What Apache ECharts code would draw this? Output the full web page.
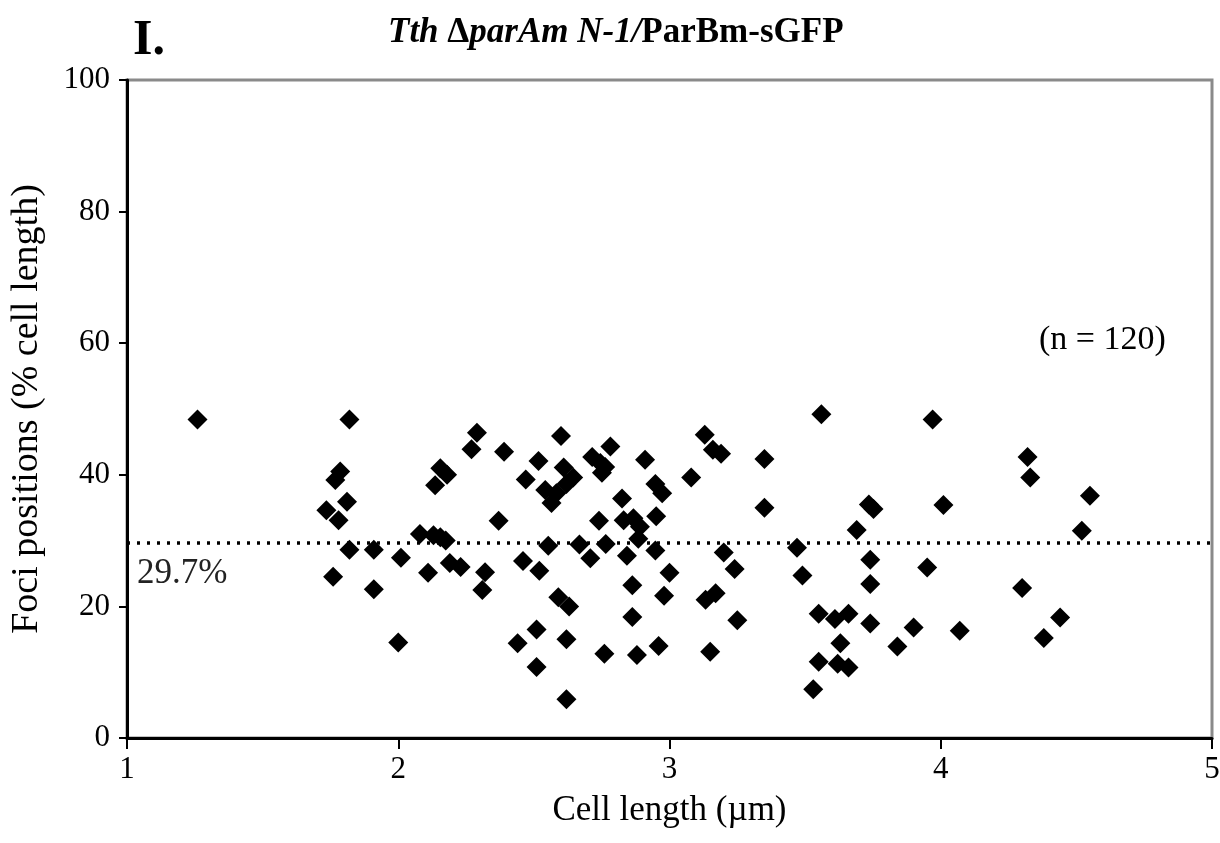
<!DOCTYPE html>
<html>
<head>
<meta charset="utf-8">
<script src="https://cdn.jsdelivr.net/npm/echarts@6/dist/echarts.min.js"></script>
<style>
  html, body { margin: 0; padding: 0; background: #fff; }
  #chart { width: 1220px; height: 843px; }
</style>
</head>
<body>
<div id="chart"></div>
<script>
// cell length (µm) and foci position (% cell length)
const cellLength = [
  1.26, 1.82, 1.786, 1.768, 1.811, 1.735, 1.78, 1.82, 1.76, 1.91, 1.91, 2.0, 2.01,
  2.08, 2.13, 2.155, 2.175, 2.11, 2.19, 2.23, 2.155, 2.18, 2.136, 2.29, 2.27, 2.39,
  2.37, 2.32, 2.31, 2.46, 2.44, 2.47,
  2.517, 2.52, 2.51, 2.51, 2.542, 2.583, 2.565, 2.62, 2.553, 2.6, 2.61, 2.645, 2.59,
  2.63, 2.62, 2.62, 2.668, 2.708, 2.715, 2.745, 2.782, 2.751, 2.763, 2.74, 2.765,
  2.76, 2.825, 2.831, 2.867, 2.891, 2.885, 2.843, 2.863, 2.863, 2.88, 2.91, 2.948,
  2.973, 2.951, 2.948, 2.98, 2.96, 3.0,
  3.08, 3.13, 3.16, 3.19, 3.35, 3.35, 3.2, 3.24, 3.17, 3.133, 3.25, 3.15, 3.47, 3.49,
  3.56, 3.55, 3.61, 3.66, 3.63, 3.55, 3.62, 3.66, 3.53, 3.69, 3.735, 3.752, 3.74,
  3.74, 3.74, 3.84, 3.9, 3.95, 3.97,
  4.01, 4.07, 4.32, 4.33, 4.3, 4.38, 4.44, 4.52, 4.55
];
const fociPosition = [
  48.4, 48.4, 40.5, 39.2, 35.9, 34.6, 33.1, 28.6, 24.5, 28.6, 22.6, 14.5, 27.4,
  31.0, 30.8, 30.5, 30.0, 25.1, 26.6, 26.0, 41.0, 40.0, 38.4, 46.4, 43.9, 43.5,
  33.0, 25.2, 22.5, 26.9, 14.4, 39.3,
  42.1, 25.4, 16.5, 10.8, 37.7, 37.2, 35.7, 38.6, 29.2, 45.9, 41.1, 39.6, 21.4,
  20.0, 15.0, 5.9, 29.4, 27.3, 42.7, 41.8, 44.3, 40.3, 41.2, 33.0, 29.5,
  12.8, 36.4, 33.1, 33.4, 32.1, 30.3, 27.7, 23.2, 18.4, 12.6, 42.3, 38.6,
  37.2, 33.7, 28.5, 21.6, 14.0, 25.1,
  39.6, 46.1, 43.8, 43.2, 42.4, 35.0, 28.2, 25.7, 22.0, 21.0, 17.9, 13.1, 28.9, 24.7,
  49.2, 18.9, 18.1, 18.9, 14.4, 11.6, 11.3, 10.7, 7.4, 31.6, 35.5, 34.8, 27.1,
  23.4, 17.4, 13.9, 16.8, 25.9, 48.4,
  35.4, 16.3, 42.7, 39.6, 22.8, 15.2, 18.3, 31.5, 36.8
];
const meanPosition = 29.7;
const xTicks = [1, 2, 3, 4, 5];
const yTicks = [0, 20, 40, 60, 80, 100];

const serif = "'Liberation Serif', 'Times New Roman', serif";
const points = cellLength.map((x, i) => [x, fociPosition[i]]);

const chart = echarts.init(document.getElementById('chart'));
chart.setOption({
  backgroundColor: '#fff',
  animation: false,
  grid: {
    left: 127, right: 8, top: 80, bottom: 105,
    outerBoundsMode: 'none', containLabel: false,
    show: true, borderColor: '#8a8a8a', borderWidth: 3
  },
  graphic: [
    { type: 'text', left: 133, top: 16,
      style: { text: 'I.', font: 'bold 50px ' + serif, fill: '#000' } },
    { type: 'text', left: 1039, top: 323,
      style: { text: '(n = 120)', font: '34px ' + serif, fill: '#000' } }
  ],
  title: {
    text: '{i|Tth }{d|\u0394}{i|parAm N-1/}{b|ParBm-sGFP}',
    left: 383, top: 10,
    textStyle: {
      rich: {
        i: { fontFamily: serif, fontSize: 35, fontWeight: 'bold', fontStyle: 'italic', color: '#000' },
        d: { fontFamily: serif, fontSize: 35, fontWeight: 'bold', color: '#000' },
        b: { fontFamily: serif, fontSize: 35, fontWeight: 'bold', color: '#000' }
      }
    }
  },
  xAxis: {
    type: 'value', min: xTicks[0], max: xTicks[xTicks.length - 1], interval: 1,
    name: 'Cell length (\u00b5m)', nameLocation: 'middle', nameGap: 55,
    nameTextStyle: { fontFamily: serif, fontSize: 35, color: '#000' },
    axisLine: { lineStyle: { color: '#000', width: 3 } },
    axisTick: { show: true, length: 11, lineStyle: { color: '#000', width: 2 } },
    axisLabel: { margin: 16, fontFamily: serif, fontSize: 31, color: '#000' },
    splitLine: { show: false }
  },
  yAxis: {
    type: 'value', min: yTicks[0], max: yTicks[yTicks.length - 1], interval: 20,
    name: 'Foci positions (% cell length)', nameLocation: 'middle', nameGap: 81,
    nameTextStyle: { fontFamily: serif, fontSize: 38, color: '#000' },
    axisLine: { lineStyle: { color: '#000', width: 3 } },
    axisTick: { show: true, length: 8, lineStyle: { color: '#000', width: 2 } },
    axisLabel: { margin: 17, fontFamily: serif, fontSize: 31, color: '#000' },
    splitLine: { show: false }
  },
  series: [{
    type: 'scatter',
    data: points,
    symbol: 'diamond',
    symbolSize: 20,
    itemStyle: { color: '#000', opacity: 1 },
    markLine: {
      silent: true,
      symbol: 'none',
      lineStyle: { color: '#000', width: 3.5, type: [3, 7], opacity: 1 },
      label: {
        show: true, position: 'insideStartBottom', distance: [10, 14],
        formatter: meanPosition + '%',
        fontFamily: serif, fontSize: 35, color: '#222'
      },
      data: [{ yAxis: meanPosition }]
    }
  }]
});
</script>
</body>
</html>
